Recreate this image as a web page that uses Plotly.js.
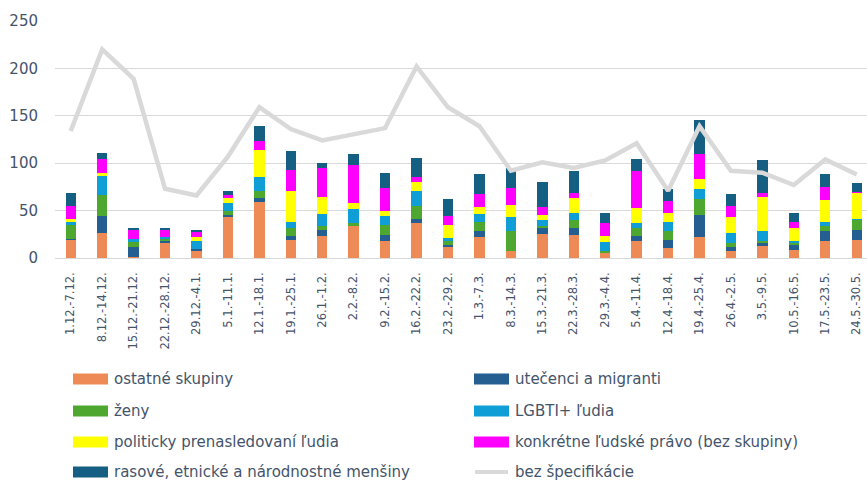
<!DOCTYPE html>
<html>
<head>
<meta charset="utf-8">
<script src="https://cdn.plot.ly/plotly-3.0.1.min.js"></script>
<style>html,body{margin:0;padding:0;background:#fff;}#chart{width:867px;height:480px;}</style>
</head>
<body>
<div id="chart"></div>
<script>
const categories = ['1.12.-7.12.','8.12.-14.12.','15.12.-21.12.','22.12.-28.12.','29.12.-4.1.','5.1.-11.1.','12.1.-18.1.','19.1.-25.1.','26.1.-1.2.','2.2.-8.2.','9.2.-15.2.','16.2.-22.2.','23.2.-29.2.','1.3.-7.3.','8.3.-14.3.','15.3.-21.3.','22.3.-28.3.','29.3.-4.4.','5.4.-11.4.','12.4.-18.4.','19.4.-25.4.','26.4.-2.5.','3.5.-9.5.','10.5.-16.5.','17.5.-23.5.','24.5.-30.5.'];

const ostatne   = [19,26,1,16,7,43,59,19,23,34,18,37,12,22,7,25,24,5,18,11,22,7,13,8,18,19];
const utecenci  = [1,18,11,2,2,2,4,4,7,0,6,4,2,7,0,7,8,0,5,8,23,5,3,6,11,11];
const zeny      = [15,22,5,2,0,5,8,9,4,3,11,14,4,9,22,2,8,2,9,10,17,4,2,2,5,10];
const lgbti     = [3,21,3,2,9,8,14,6,12,15,9,16,3,8,14,6,8,10,5,9,11,10,10,2,4,1];
const politicky = [3,3,0,0,4,5,29,33,18,6,6,9,14,8,13,5,15,6,16,10,10,17,36,14,23,28];
const konkretne = [14,14,10,8,5,3,9,22,31,40,24,5,9,13,18,9,6,14,39,12,27,12,5,6,14,1];
const rasove    = [14,7,2,2,3,5,16,20,5,12,16,21,18,22,21,26,23,11,12,13,36,12,34,10,14,9];
const bezSpec   = [134,220,189,73,66,107,159,136,124,131,137,202,159,139,92,101,95,103,121,71,139,92,90,77,104,88];

const seriesNames = ['ostatné skupiny','utečenci a migranti','ženy','LGBTI+ ľudia','politicky prenasledovaní ľudia','konkrétne ľudské právo (bez skupiny)','rasové, etnické a národnostné menšiny','bez špecifikácie'];
const seriesColors = ['#EE8A55','#255E91','#4EA72E','#0F9ED5','#FFFF00','#FF00FF','#145F82','#D9D9D9'];
const seriesData = [ostatne, utecenci, zeny, lgbti, politicky, konkretne, rasove];

const FONT = 'DejaVu Sans';
const TXT = '#44546A';

const traces = seriesData.map((d,i)=>({
  type:'bar', x:categories, y:d, name:seriesNames[i],
  marker:{color:seriesColors[i]}, width:0.33, showlegend:false
}));
traces.push({
  type:'scatter', mode:'lines', x:categories, y:bezSpec, name:seriesNames[7],
  line:{color:seriesColors[7], width:4.5}, showlegend:false
});

// layout geometry
const W=867, H=480, ML=55, MR=0, MT=21, MB=222;
const PW=W-ML-MR, PH=H-MT-MB;
const px2x = p => (p-ML)/PW;
const py2y = p => (H-MB-p)/PH;
const step = 31.44;

const shapes=[], annotations=[];
const rows=[379,411,442,472];
const cols=[[73,108,112],[474,509,513]];
for(let i=0;i<8;i++){
  const r=Math.floor(i/2), c=i%2;
  const cy=rows[r], [x0,x1,tx]=cols[c];
  if(i<7){
    shapes.push({type:'rect',xref:'paper',yref:'paper',x0:px2x(x0),x1:px2x(x1),y0:py2y(cy-5.5),y1:py2y(cy+5.5),fillcolor:seriesColors[i],line:{width:0}});
  } else {
    shapes.push({type:'line',xref:'paper',yref:'paper',x0:px2x(x0+1),x1:px2x(x1-1),y0:py2y(cy),y1:py2y(cy),line:{color:seriesColors[i],width:4}});
  }
  annotations.push({xref:'paper',yref:'paper',x:px2x(tx),y:py2y(cy),xanchor:'left',yanchor:'middle',showarrow:false,text:seriesNames[i],font:{family:FONT,size:15,color:TXT}});
}

const layout={
  width:W,height:H,
  margin:{l:ML,r:MR,t:MT,b:MB,pad:0},
  paper_bgcolor:'#fff',plot_bgcolor:'#fff',
  barmode:'stack',
  showlegend:false,
  font:{family:FONT,color:TXT},
  xaxis:{type:'category',range:[-0.5,-0.5+PW/step],tickangle:-90,tickfont:{family:FONT,size:11.5,color:TXT},showgrid:false,zeroline:false,showline:false,ticks:'',ticklabelstandoff:11,automargin:false},
  yaxis:{range:[0,250],tickvals:[0,50,100,150,200,250],tickfont:{family:FONT,size:15,color:TXT},gridcolor:'#D9D9D9',gridwidth:1,zeroline:true,zerolinecolor:'#D9D9D9',zerolinewidth:1,showline:false,ticks:'',ticklabelstandoff:16,automargin:false},
  shapes:shapes, annotations:annotations,
  hovermode:false
};
Plotly.newPlot('chart',traces,layout,{staticPlot:true,displayModeBar:false});
</script>
</body>
</html>
